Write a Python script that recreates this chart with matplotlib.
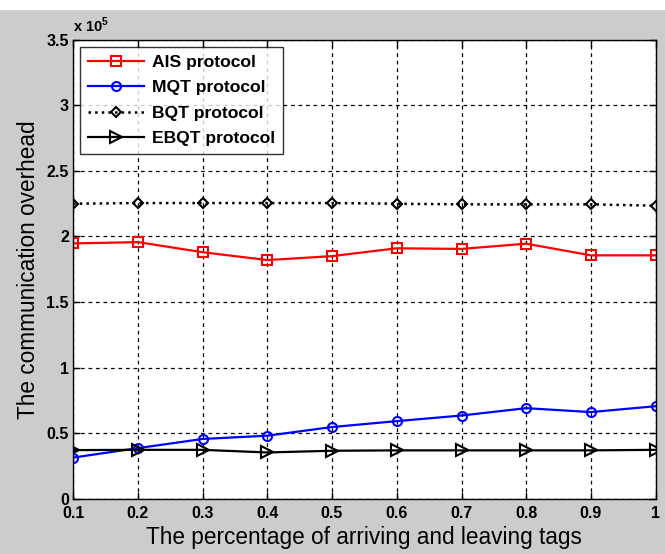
import matplotlib
matplotlib.use("Agg")
import matplotlib.pyplot as plt
import numpy as np

# percentage of arriving / leaving tags
x = [0.1, 0.2, 0.3, 0.4, 0.5, 0.6, 0.7, 0.8, 0.9, 1.0]

# communication overhead, in units of 1e5
ais = [1.947, 1.957, 1.88, 1.82, 1.85, 1.91, 1.905, 1.945, 1.856, 1.856]
mqt = [0.313, 0.385, 0.455, 0.48, 0.546, 0.591, 0.634, 0.69, 0.66, 0.705]
bqt = [2.25, 2.255, 2.255, 2.255, 2.255, 2.25, 2.245, 2.245, 2.245, 2.235]
ebqt = [0.37, 0.372, 0.372, 0.352, 0.365, 0.368, 0.368, 0.368, 0.368, 0.372]

xticks = [0.1, 0.2, 0.3, 0.4, 0.5, 0.6, 0.7, 0.8, 0.9, 1]
xticklabels = ["0.1", "0.2", "0.3", "0.4", "0.5", "0.6", "0.7", "0.8", "0.9", "1"]
yticks = [0, 0.5, 1, 1.5, 2, 2.5, 3, 3.5]
yticklabels = ["0", "0.5", "1", "1.5", "2", "2.5", "3", "3.5"]

plt.rcParams["font.family"] = ["Liberation Sans", "DejaVu Sans"]

fig = plt.figure(figsize=(6.65, 5.54), dpi=100, facecolor="#cccccc")
# thin white strip along the top edge, as in the screenshot
fig.patches.append(plt.Rectangle((0, 1 - 9 / 554), 1, 9 / 554,
                                 transform=fig.transFigure, color="white",
                                 zorder=0))
ax = fig.add_axes([0.11, 0.1, 0.876, 0.828])
ax.set_facecolor("white")

ax.plot(x, ais, color="#ff0000", lw=1.6, marker="s", ms=7.5, mfc="none",
        mec="#ff0000", mew=1.5, label="AIS protocol")
ax.plot(x, mqt, color="#0000ff", lw=1.6, marker="o", ms=6.5, mfc="none",
        mec="#0000ff", mew=1.5, label="MQT protocol")
ax.plot(x, bqt, color="black", lw=1.8, ls=":", marker="D", ms=5.5, mfc="none",
        mec="black", mew=1.5, label="BQT protocol")
ax.plot(x, ebqt, color="black", lw=1.6, marker=">", ms=8, mfc="none",
        mec="black", mew=1.5, label="EBQT protocol")

ax.set_xlim(0.1, 1)
ax.set_ylim(0, 3.5)
ax.set_xticks(xticks)
ax.set_xticklabels(xticklabels, fontweight="bold", fontsize=11.5)
ax.set_yticks(yticks)
ax.set_yticklabels(yticklabels, fontweight="bold", fontsize=11.5)
ax.tick_params(direction="in", top=True, right=True, length=5, width=1)
ax.tick_params(axis="x", pad=5)
ax.tick_params(axis="y", pad=3)
for s in ax.spines.values():
    s.set_linewidth(1)

ax.grid(True, color="black", ls=(0, (3, 3)), lw=0.9)
ax.set_axisbelow(True)

ax.set_xlabel("The percentage of arriving and leaving tags", fontsize=16.3,
              labelpad=4)
ax.set_ylabel("The communication overhead", fontsize=16.3, labelpad=5)
ax.text(0.0, 1.01, r"x 10$^{\mathregular{5}}$", transform=ax.transAxes,
        fontsize=10.5, fontweight="bold", ha="left", va="bottom")

leg = ax.legend(loc="upper left", bbox_to_anchor=(0.012, 0.985),
                prop={"weight": "bold", "size": 12.6}, frameon=True,
                fancybox=False, edgecolor="black", handlelength=3.2,
                borderpad=0.45, labelspacing=0.58, handletextpad=0.45,
                borderaxespad=0)
leg.get_frame().set_linewidth(1)

fig.savefig("out.png", dpi=100, facecolor=fig.get_facecolor())
